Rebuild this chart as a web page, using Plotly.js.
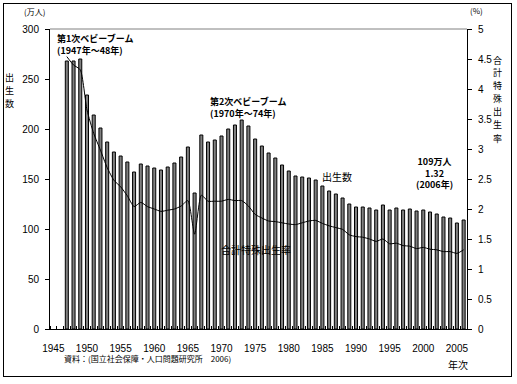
<!DOCTYPE html>
<html><head><meta charset="utf-8">
<script src="https://cdn.plot.ly/plotly-3.0.1.min.js"></script>
<style>
body{margin:0;background:#fff;}
#chart{width:517px;height:384px;position:absolute;left:0;top:0;}
#frame{position:absolute;left:3px;top:3px;width:507px;height:372px;border:1px solid #000;pointer-events:none;}
</style>
</head><body>
<div id="chart"></div><div id="frame"></div>
<script>
const years = [1947,1948,1949,1950,1951,1952,1953,1954,1955,1956,1957,1958,1959,1960,1961,1962,1963,1964,1965,1966,1967,1968,1969,1970,1971,1972,1973,1974,1975,1976,1977,1978,1979,1980,1981,1982,1983,1984,1985,1986,1987,1988,1989,1990,1991,1992,1993,1994,1995,1996,1997,1998,1999,2000,2001,2002,2003,2004,2005,2006];
const births = [268,268,270,234,214,201,187,177,173,167,157,165,163,161,159,162,166,172,182,136,194,187,189,193,200,204,209,203,190,183,176,171,164,158,153,152,151,149,143,138,135,131,125,122,122,121,119,124,119,121,119,120,118,119,117,115,112,111,106,109];
const tfr = [4.54,4.40,4.32,3.65,3.26,2.98,2.69,2.48,2.37,2.22,2.04,2.11,2.04,2.00,1.96,1.98,2.00,2.05,2.14,1.58,2.23,2.13,2.13,2.13,2.16,2.14,2.14,2.05,1.91,1.85,1.80,1.79,1.77,1.75,1.74,1.77,1.80,1.81,1.76,1.72,1.69,1.66,1.57,1.54,1.53,1.50,1.46,1.50,1.42,1.43,1.39,1.38,1.34,1.36,1.33,1.32,1.29,1.29,1.26,1.32];
const xTickYears = [1945,1950,1955,1960,1965,1970,1975,1980,1985,1990,1995,2000,2005];
const xTickLabels = ['1945','1950','1955','1960','1965','1970','1975','1980','1985','1990','1995','2000','2005'];
const leftTitle = '出生数';
const rightTitle = '合計特殊出生率';

const JP = '"Noto Sans CJK JP", "Noto Sans", sans-serif';
const NUM = '"Liberation Sans", Arial, sans-serif';
const PLOT_H = 300;

const traces = [
  {type:'bar', x:years, y:births, width:0.45, name:'出生数',
   marker:{color:'#808080', line:{color:'#000', width:1}}, yaxis:'y', hoverinfo:'x+y'},
  {type:'scatter', mode:'lines', x:years, y:tfr, name:'合計特殊出生率', yaxis:'y2',
   line:{color:'#000', width:1, shape:'spline', smoothing:0.6}}
];

function ann(text, x, y, opts){
  return Object.assign({text:text, x:x, y:y, xref:'x', yref:'y', showarrow:false,
    xanchor:'center', yanchor:'middle',
    font:{family:JP, size:9, color:'#000'}}, opts||{});
}
function pann(text, x, y, opts){
  return Object.assign({text:text, x:x, y:y, xref:'paper', yref:'paper', showarrow:false,
    xanchor:'center', yanchor:'middle',
    font:{family:JP, size:10, color:'#000'}}, opts||{});
}
// vertical (stacked) title: one annotation per character
function vtitle(str, xPaper, yCenterPx, stepPx){
  const chars = Array.from(str);
  const out = [];
  const n = chars.length;
  chars.forEach((c, i) => {
    const py = yCenterPx + (i - (n - 1) / 2) * stepPx;
    out.push(pann(c, xPaper, (329 - py) / PLOT_H, {borderpad:0, font:{family:JP, size:9, color:'#000'}}));
  });
  return out;
}

const layout = {
  width:517, height:384,
  margin:{l:50, r:50, t:29, b:55, pad:0},
  paper_bgcolor:'#fff', plot_bgcolor:'#fff',
  showlegend:false,
  bargap:0,
  xaxis:{range:[1944.5,2006.5], tickmode:'array', tickvals:xTickYears, ticktext:xTickLabels,
    ticks:'', showline:true, linecolor:'#000', linewidth:1, showgrid:false, zeroline:false,
    ticklabelstandoff:10,
    tickfont:{family:NUM, size:10, color:'#000'},
    minor:{tickmode:'linear', tick0:0.5, dtick:1, ticks:'inside', ticklen:3, tickcolor:'#000', showgrid:false}},
  yaxis:{range:[0,300], dtick:50, tick0:0, ticks:'outside', ticklen:4, tickcolor:'#000',
    showline:true, linecolor:'#000', linewidth:1, showgrid:false, zeroline:false,
    ticklabelstandoff:4,
    tickfont:{family:NUM, size:10, color:'#000'}},
  yaxis2:{range:[0,5], dtick:0.5, tick0:0, overlaying:'y', side:'right', ticks:'outside', ticklen:4, tickcolor:'#000',
    showline:true, linecolor:'#000', linewidth:1, showgrid:false, zeroline:false,
    ticklabelstandoff:4,
    tickfont:{family:NUM, size:10, color:'#000'}},
  shapes:[{type:'line', xref:'paper', yref:'paper', x0:0, x1:1, y0:1, y1:1, line:{color:'#808080', width:1}}],
  annotations:[
    pann('(万人)', -0.038, 1.057, {font:{family:JP, size:8, color:'#000'}}),
    pann('(%)', 1.022, 1.063, {font:{family:JP, size:8, color:'#000'}}),
    ...vtitle(leftTitle, -0.096, 90, 13),
    ...vtitle(rightTitle, 1.074, 99, 13),
    pann('年次', 0.978, -0.119, {font:{family:JP, size:10, color:'#000'}}),
    pann('資料：(国立社会保障・人口問題研究所　2006)', 0.235, -0.097, {font:{family:JP, size:8, color:'#000'}}),
    ann('<b>第1次ベビーブーム</b><br><b>(1947年～48年)</b>', 1945.24, 285, {xanchor:'left', align:'left'}),
    ann('<b>第2次ベビーブーム</b><br><b>(1970年～74年)</b>', 1968.0, 222, {xanchor:'left', align:'left'}),
    ann('出生数', 1984.65, 153, {xanchor:'left', font:{family:JP, size:10, color:'#000'}}),
    ann('<b>109万人</b><br><b>1.32</b><br><b>(2006年)</b>', 2001.6, 156, {align:'center'}),
    ann('合計特殊出生率', 1975.1, 80, {font:{family:JP, size:10, color:'#000'}})
  ]
};

Plotly.newPlot('chart', traces, layout, {displayModeBar:false, staticPlot:true});
</script>
</body></html>
